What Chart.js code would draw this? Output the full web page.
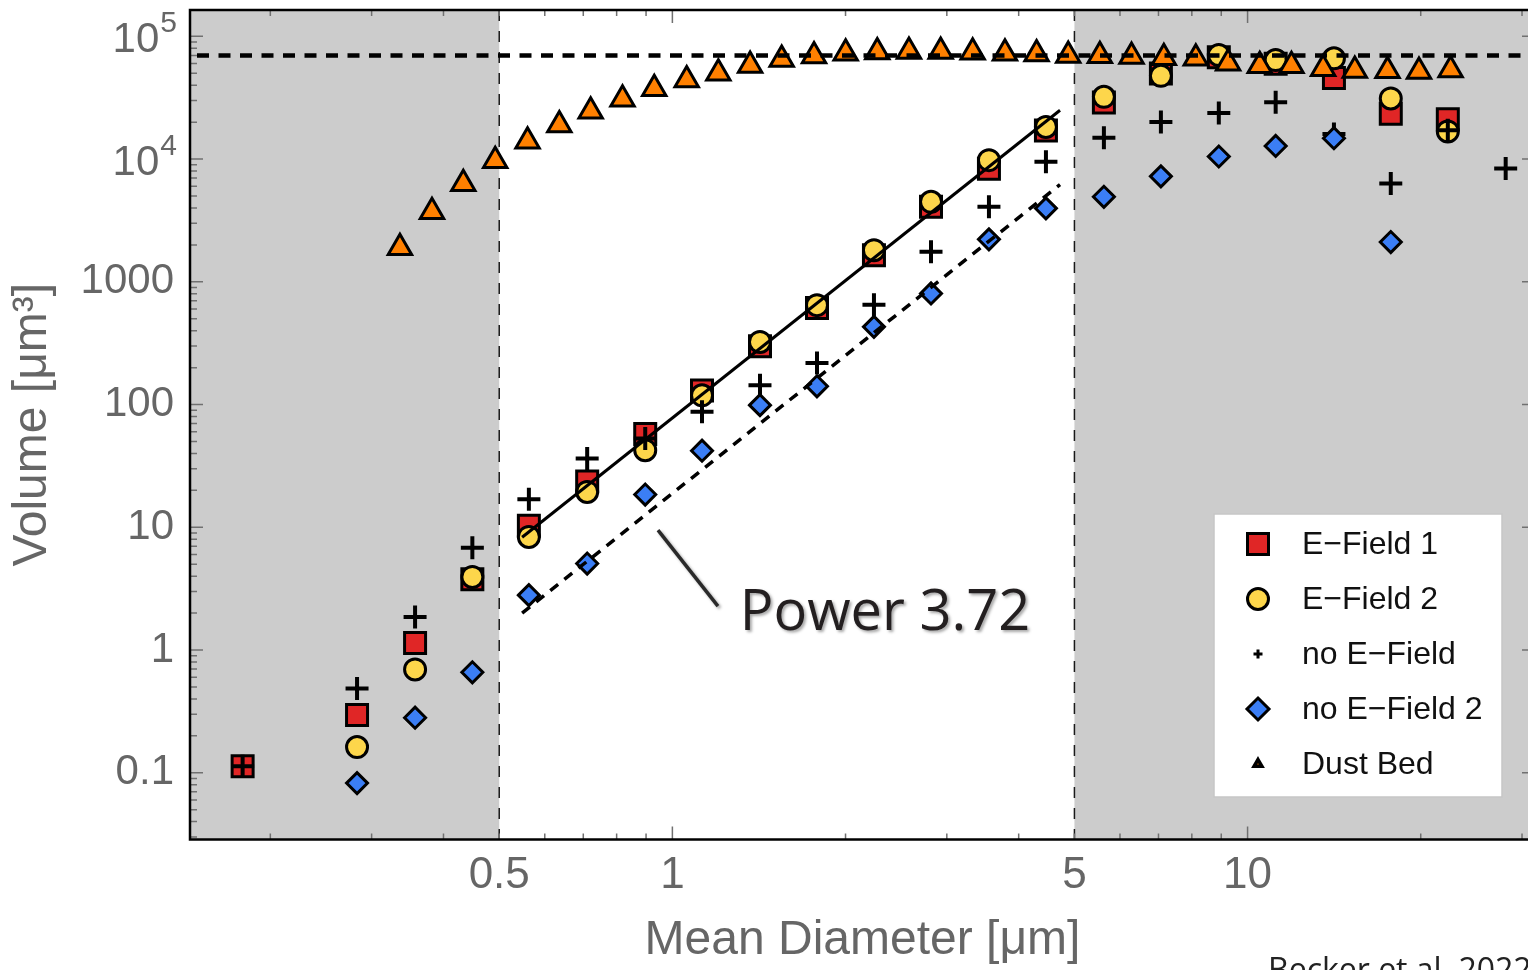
<!DOCTYPE html>
<html>
<head>
<meta charset="utf-8">
<title>Volume vs mean diameter</title>
<script src="https://cdn.jsdelivr.net/npm/chart.js@4/dist/chart.umd.min.js"></script>
<style>
  html, body { margin: 0; padding: 0; overflow: hidden; background: #fff; }
  #wrap { position: absolute; left: 0; top: 0; width: 1545px; height: 970px; }
</style>
</head>
<body>
<div id="wrap"><canvas id="volumeChart" width="1545" height="970"></canvas></div>
<script>
// mean diameter of each size bin [um]
var diameters = [0.179, 0.283, 0.357, 0.449, 0.563, 0.711, 0.897, 1.126, 1.42, 1.784, 2.241,
                 2.816, 3.551, 4.461, 5.626, 7.068, 8.912, 11.19, 14.13, 17.74, 22.29, 28.1];

// volume per bin [um^3], null where a run has no particles
var eField1  = [0.113, 0.296, 1.14, 3.78, 10.3, 23.6, 57.7, 130, 299, 612, 1650,
                4090, 8340, 17100, 28900, 49900, 67600, 59700, 45700, 23400, 21100, null];
var eField2  = [null, 0.162, 0.695, 3.94, 8.35, 19.4, 42.5, 119, 324, 646, 1810,
                4490, 9810, 18300, 32200, 47700, 70400, 64100, 66200, 31200, 16800, null];
var noField  = [0.113, 0.485, 1.86, 6.82, 16.9, 36.4, 53, 87.3, 144, 218, 650,
                1760, 4090, 9510, 14900, 20100, 23800, 29100, 16000, 6340, 17200, 8400];
var noField2 = [null, 0.0824, 0.281, 0.659, 2.8, 5.07, 18.5, 42.1, 98.9, 141, 430,
                804, 2220, 3970, 4930, 7240, 10500, 12800, 14800, 2110, null, null];

// dust bed size distribution
var dustDiameters = [0.336, 0.382, 0.433, 0.492, 0.560, 0.636, 0.721, 0.819, 0.930, 1.059, 1.202, 1.365,
                     1.549, 1.763, 2.001, 2.271, 2.578, 2.927, 3.327, 3.786, 4.297, 4.877, 5.536, 6.284,
                     7.152, 8.128, 9.25, 10.5, 11.92, 13.53, 15.36, 17.51, 19.86, 22.54];
var dustVolumes = [1900, 3720, 6290, 9690, 13970, 19000, 24500, 30800, 37400, 44200, 50000, 58000,
                   64900, 69100, 72800, 74500, 75200, 75200, 74100, 72800, 71700, 70000, 69500, 68400,
                   66800, 66300, 60400, 57600, 57600, 54400, 52800, 52400, 51700, 53300];

// power law fits (slope 3.72), end points
var fitDiameters = [0.548, 4.72];
var fitEField = [8.3, 25000];
var fitNoField = [2.0, 6200];

var bedLevel = 70000;
var xRange = [0.145, 31.6];
var yRange = [0.0286, 164000];
var shadeBounds = [0.5, 5];

var xTickValues = [0.5, 1, 5, 10];
var xTickLabels = ['0.5', '1', '5', '10'];
var yTickValues = [0.1, 1, 10, 100, 1000, 1e4, 1e5];
var yTickLabels = ['0.1', '1', '10', '100', '1000', '10^4', '10^5'];

var tickFont = '"Liberation Sans", Arial, sans-serif';
var grey = '#666666';

function points(xs, ys) {
    return xs.map(function(x, i) { return { x: x, y: ys[i] }; })
             .filter(function(p) { return p.y !== null; });
}

function logTicks(min, max) {
    var out = [];
    for (var e = Math.floor(Math.log10(min)); e <= Math.ceil(Math.log10(max)); e++) {
        for (var m = 1; m <= 9; m++) {
            var v = m * Math.pow(10, e);
            if (v >= min && v <= max) out.push({ v: v, major: m === 1 });
        }
    }
    return out;
}

function drawMarker(ctx, style, x, y, r, fill, lw) {
    ctx.beginPath();
    if (style === 'rect') {
        ctx.rect(x - r, y - r, 2 * r, 2 * r);
    } else if (style === 'circle') {
        ctx.arc(x, y, r, 0, Math.PI * 2);
    } else if (style === 'rectRot') {
        ctx.moveTo(x, y - r); ctx.lineTo(x + r, y); ctx.lineTo(x, y + r); ctx.lineTo(x - r, y);
        ctx.closePath();
    } else if (style === 'triangle') {
        ctx.moveTo(x, y - r); ctx.lineTo(x + r * 0.866, y + r / 2); ctx.lineTo(x - r * 0.866, y + r / 2);
        ctx.closePath();
    } else {
        ctx.moveTo(x - r, y); ctx.lineTo(x + r, y); ctx.moveTo(x, y - r); ctx.lineTo(x, y + r);
    }
    if (style !== 'cross') { ctx.fillStyle = fill; ctx.fill(); }
    ctx.lineWidth = lw;
    ctx.strokeStyle = '#000';
    ctx.stroke();
}

var legendMarks = {
    rect: { r: 10.5, lw: 3 },
    circle: { r: 10.5, lw: 3 },
    cross: { r: 4.5, lw: 3 },
    rectRot: { r: 11, lw: 3 },
    triangle: { r: 4.5, lw: 3.5 }
};

var framePlugin = {
    id: 'framePlugin',
    beforeDatasetsDraw: function(chart) {
        var ctx = chart.ctx, a = chart.chartArea, xs = chart.scales.x;
        var xa = xs.getPixelForValue(shadeBounds[0]);
        var xb = xs.getPixelForValue(shadeBounds[1]);
        ctx.save();
        ctx.fillStyle = '#cccccc';
        ctx.fillRect(a.left, a.top, xa - a.left, a.bottom - a.top);
        ctx.fillRect(xb, a.top, a.right - xb, a.bottom - a.top);
        ctx.strokeStyle = '#1a1a1a';
        ctx.lineWidth = 1.5;
        ctx.setLineDash([11, 10]);
        [xa, xb].forEach(function(px) {
            ctx.beginPath();
            ctx.moveTo(px, a.top);
            ctx.lineTo(px, a.bottom);
            ctx.stroke();
        });
        ctx.restore();
    },
    afterDatasetsDraw: function(chart) {
        var ctx = chart.ctx, a = chart.chartArea;
        var xs = chart.scales.x, ys = chart.scales.y;
        ctx.save();

        // inward tick marks on all four sides
        ctx.strokeStyle = '#707070';
        ctx.lineWidth = 1.5;
        logTicks(xRange[0], xRange[1]).forEach(function(t) {
            var px = xs.getPixelForValue(t.v), len = t.major ? 13 : 6;
            ctx.beginPath();
            ctx.moveTo(px, a.bottom); ctx.lineTo(px, a.bottom - len);
            ctx.moveTo(px, a.top); ctx.lineTo(px, a.top + len);
            ctx.stroke();
        });
        logTicks(yRange[0], yRange[1]).forEach(function(t) {
            var py = ys.getPixelForValue(t.v), len = t.major ? 13 : 7;
            ctx.beginPath();
            ctx.moveTo(a.left, py); ctx.lineTo(a.left + len, py);
            ctx.moveTo(a.right, py); ctx.lineTo(a.right - len, py);
            ctx.stroke();
        });

        ctx.strokeStyle = '#000';
        ctx.lineWidth = 2.5;
        ctx.strokeRect(a.left, a.top, a.right - a.left, a.bottom - a.top);

        // tick labels
        ctx.fillStyle = grey;
        ctx.textBaseline = 'middle';
        ctx.textAlign = 'center';
        ctx.font = '44px ' + tickFont;
        xTickValues.forEach(function(v, i) {
            ctx.fillText(xTickLabels[i], xs.getPixelForValue(v), a.bottom + 36);
        });
        ctx.textAlign = 'right';
        yTickValues.forEach(function(v, i) {
            var py = ys.getPixelForValue(v), lab = yTickLabels[i];
            if (lab.indexOf('^') > 0) {
                var parts = lab.split('^');
                ctx.font = '30px ' + tickFont;
                ctx.textBaseline = 'alphabetic';
                ctx.fillText(parts[1], a.left - 13, py - 4);
                var ew = ctx.measureText(parts[1]).width;
                ctx.font = '42px ' + tickFont;
                ctx.textBaseline = 'middle';
                ctx.fillText(parts[0], a.left - 14 - ew, py + 4);
            } else {
                ctx.font = '42px ' + tickFont;
                ctx.fillText(lab, a.left - 16, py);
            }
        });

        // legend box inside the plot
        var lx = 1214, ly = 514, lw = 288, lh = 283;
        ctx.fillStyle = '#fff';
        ctx.fillRect(lx, ly, lw, lh);
        ctx.strokeStyle = '#c6c6c6';
        ctx.lineWidth = 1.5;
        ctx.strokeRect(lx, ly, lw, lh);
        var row = 0;
        chart.data.datasets.forEach(function(ds) {
            if (!ds.inLegend) return;
            var cy = ly + 30 + row * 55, m = legendMarks[ds.pointStyle];
            drawMarker(ctx, ds.pointStyle, lx + 44, cy, m.r, ds.backgroundColor, m.lw);
            ctx.fillStyle = '#111';
            ctx.font = '32px ' + tickFont;
            ctx.textAlign = 'left';
            ctx.textBaseline = 'middle';
            ctx.fillText(ds.label, lx + 88, cy + 1);
            row++;
        });

        // fit annotation with leader line
        ctx.shadowColor = 'rgba(0,0,0,0.35)';
        ctx.shadowOffsetX = 2;
        ctx.shadowOffsetY = 2;
        ctx.shadowBlur = 3;
        ctx.strokeStyle = '#2a2a2a';
        ctx.lineWidth = 3.5;
        ctx.beginPath();
        ctx.moveTo(xs.getPixelForValue(0.944), ys.getPixelForValue(9.5));
        ctx.lineTo(xs.getPixelForValue(1.2), ys.getPixelForValue(2.28));
        ctx.stroke();
        ctx.fillStyle = '#231f20';
        ctx.font = '56px "Open Sans", "Noto Sans", sans-serif';
        ctx.textAlign = 'left';
        ctx.textBaseline = 'alphabetic';
        ctx.fillText('Power 3.72', xs.getPixelForValue(1.31), ys.getPixelForValue(1.455));
        ctx.shadowColor = 'transparent';

        ctx.fillStyle = '#222';
        ctx.font = '32px "Open Sans", "Noto Sans", sans-serif';
        ctx.fillText('Becker et al. 2022', 1268, 981);
        ctx.restore();
    }
};

function markerSet(label, xs, ys, style, radius, fill, border, order) {
    return {
        label: label,
        data: points(xs, ys),
        pointStyle: style,
        pointRadius: radius,
        backgroundColor: fill,
        borderColor: '#000',
        borderWidth: border,
        showLine: false,
        order: order,
        inLegend: true
    };
}

function lineSet(xs, ys, width, dash, dashOffset) {
    return {
        data: points(xs, ys),
        showLine: true,
        pointRadius: 0,
        borderColor: '#000',
        borderWidth: width,
        borderDash: dash,
        borderDashOffset: dashOffset,
        order: 1,
        inLegend: false
    };
}

var ctx = document.getElementById('volumeChart').getContext('2d');
var volumeChart = new Chart(ctx, {
    type: 'scatter',
    data: {
        datasets: [
            markerSet('E\u2212Field 1', diameters, eField1, 'rect', 14.85, '#e02626', 3, 7),
            markerSet('E\u2212Field 2', diameters, eField2, 'circle', 10.5, '#fdd64b', 3, 6),
            markerSet('no E\u2212Field', diameters, noField, 'cross', 11.5, '#000', 4, 5),
            markerSet('no E\u2212Field 2', diameters, noField2, 'rectRot', 10.5, '#3b7ef5', 3, 4),
            markerSet('Dust Bed', dustDiameters, dustVolumes, 'triangle', 13.5, '#ff8000', 3, 3),
            lineSet(xRange, [bedLevel, bedLevel], 4.5, [12, 9.5], 14.5),
            lineSet(fitDiameters, fitEField, 3, [], 0),
            lineSet(fitDiameters, fitNoField, 3.5, [10, 8], 0)
        ]
    },
    options: {
        responsive: false,
        animation: false,
        events: [],
        layout: { autoPadding: false, padding: { top: 10, right: 10, left: 0, bottom: 0 } },
        plugins: { legend: { display: false }, tooltip: { enabled: false } },
        scales: {
            x: {
                type: 'logarithmic',
                min: xRange[0],
                max: xRange[1],
                bounds: 'data',
                grid: { display: false },
                border: { display: false },
                ticks: { display: false },
                title: {
                    display: true,
                    text: 'Mean Diameter [\u03bcm]',
                    color: grey,
                    font: { family: tickFont, size: 48 },
                    padding: { top: 0, bottom: 0 }
                },
                afterFit: function(scale) { scale.height = 130.5; }
            },
            y: {
                type: 'logarithmic',
                min: yRange[0],
                max: yRange[1],
                bounds: 'data',
                grid: { display: false },
                border: { display: false },
                ticks: { display: false },
                title: {
                    display: true,
                    text: 'Volume [\u03bcm\u00b3]',
                    color: grey,
                    font: { family: tickFont, size: 48 },
                    padding: { top: 4, bottom: 0 }
                },
                afterFit: function(scale) { scale.width = 190; }
            }
        }
    },
    plugins: [framePlugin]
});
</script>
</body>
</html>
